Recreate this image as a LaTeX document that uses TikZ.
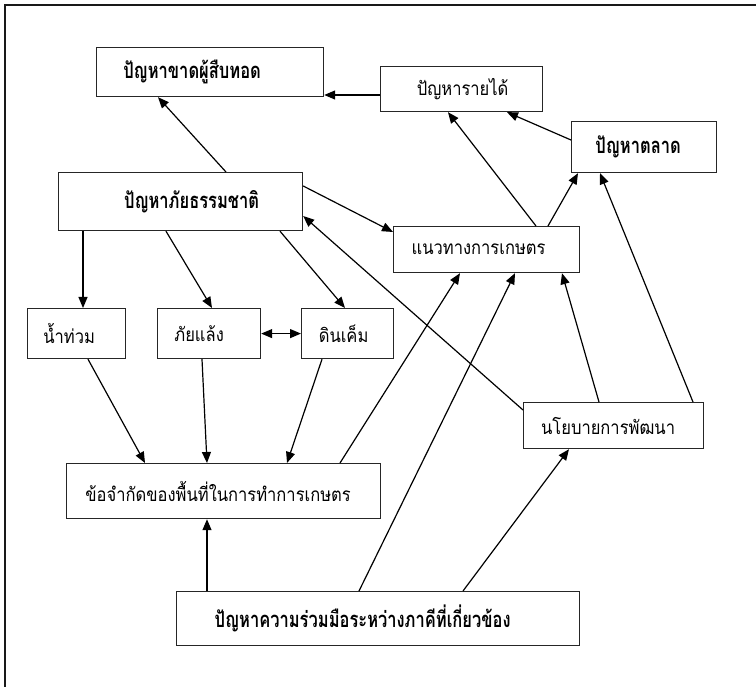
\documentclass[tikz,border=0pt]{standalone}
\usepackage{fontspec}
\usetikzlibrary{arrows.meta,calc}
\newfontfamily\thai[Script=Thai,FakeStretch=0.87]{Loma}
\newfontfamily\thaib[Script=Thai,FakeStretch=0.75]{Loma}
\newcommand{\tcx}[2]{\hbox to 0pt{\hss\kern#1pt\relax #2\hss}}
\tikzset{
  box/.style={draw=black!85, line width=1.2pt, fill=white, anchor=north west, inner sep=0pt,
    font=\thai\fontsize{19}{21}\selectfont},
  bbox/.style={box, font=\thaib\bfseries\fontsize{22}{24}\selectfont},
  tip/.tip={Triangle[length=11pt,width=9pt]},
  arr/.style={line width=1.2pt, -tip},
  barr/.style={line width=1.2pt, tip-tip}
}
\begin{document}
\begin{tikzpicture}[x=1pt,y=-1pt]
\useasboundingbox (0,0) rectangle (756,687);
\draw[line width=2pt, black!90] (756,5) -- (5,5) -- (5,687);
% boxes
\node[bbox, minimum width=227pt, minimum height=49pt] (A) at (96,47) {\tcx{-36}{ปัญหาขาดผู้สืบทอด}};
\node[box, minimum width=162pt, minimum height=45pt] (B) at (380,66) {\tcx{2}{ปัญหารายได้}};
\node[bbox, minimum width=145pt, minimum height=51pt] (C) at (571,121) {\tcx{-12}{ปัญหาตลาด}};
\node[bbox, minimum width=244pt, minimum height=58pt] (D) at (58,172) {\tcx{22}{ปัญหาภัยธรรมชาติ}};
\node[box, minimum width=186pt, minimum height=46pt] (E) at (393,226) {\tcx{-16}{แนวทางการเกษตร}};
\node[box, minimum width=98pt, minimum height=50pt] (F) at (27,308) {\tcx{-15}{น้ำท่วม}};
\node[box, minimum width=103pt, minimum height=50pt] (G) at (157,308) {\tcx{-20}{ภัยแล้ง}};
\node[box, minimum width=92pt, minimum height=50pt] (H) at (301,308) {\tcx{-8}{ดินเค็ม}};
\node[box, minimum width=314pt, minimum height=55pt] (I) at (66,463) {\tcx{-11}{ข้อจำกัดของพื้นที่ในการทำการเกษตร}};
\node[box, minimum width=180pt, minimum height=46pt] (J) at (523,402) {\tcx{-11}{นโยบายการพัฒนา}};
\node[bbox, minimum width=403pt, minimum height=54pt] (K) at (176,591) {\tcx{-31}{ปัญหาความร่วมมือระหว่างภาคีที่เกี่ยวข้อง}};
% connectors
\draw[arr] ($(D.north west)+(168,0)$) -- ($(A.south west)+(62,0)$);
\draw[arr] ($(B.north west)+(0,29)$) -- ($(A.north east)+(0,48)$);
\draw[arr] ($(C.north west)+(0,19)$) -- ($(B.south west)+(127,0)$);
\draw[arr] ($(E.north west)+(143,0)$) -- ($(B.south west)+(68,0)$);
\draw[arr] ($(E.north west)+(155,0)$) -- ($(C.south west)+(7,0)$);
\draw[arr] ($(J.north west)+(170,0)$) -- ($(C.south west)+(29,0)$);
\draw[arr] ($(J.north west)+(76,0)$) -- ($(E.south west)+(169,0)$);
\draw[arr] ($(J.north west)+(0,8)$) -- ($(D.north east)+(0,44)$);
\draw[arr] ($(D.north east)+(0,14)$) -- ($(E.north west)+(0,6)$);
\draw[arr] ($(D.south west)+(108,0)$) -- ($(G.north west)+(55,0)$);
\draw[arr] ($(D.south west)+(222,0)$) -- ($(H.north west)+(44,0)$);
\draw[arr] ($(D.south west)+(25,0)$) -- ($(F.north west)+(56,0)$);
\draw[barr] (G.east) -- (H.west);
\draw[arr] ($(F.south west)+(61,0)$) -- ($(I.north west)+(79,0)$);
\draw[arr] ($(G.south west)+(45,0)$) -- ($(I.north west)+(141,0)$);
\draw[arr] ($(H.south west)+(21,0)$) -- ($(I.north west)+(221,0)$);
\draw[arr] ($(I.north west)+(274,0)$) -- ($(E.south west)+(67,0)$);
\draw[arr] ($(K.north west)+(183,0)$) -- ($(E.south west)+(122,0)$);
\draw[arr] ($(K.north west)+(287,0)$) -- ($(J.south west)+(46,0)$);
\draw[arr] ($(K.north west)+(31,0)$) -- ($(I.south west)+(141,0)$);
\end{tikzpicture}
\end{document}
